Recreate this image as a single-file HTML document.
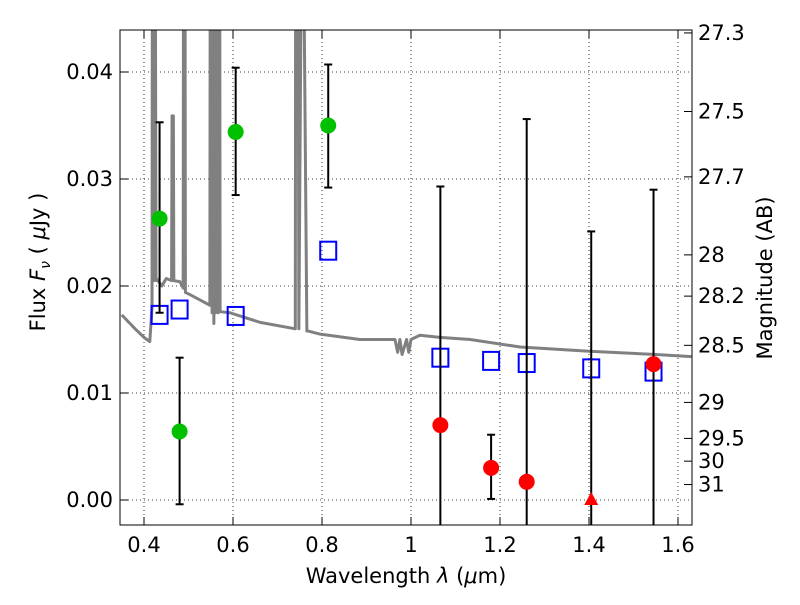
<!DOCTYPE html>
<html><head><meta charset="utf-8"><style>
body{margin:0;background:#fff;}
svg text{font-family:"DejaVu Sans","Liberation Sans",sans-serif;}
</style></head><body>
<svg id="chart" width="800" height="600" xmlns="http://www.w3.org/2000/svg">
<defs><clipPath id="pc"><rect x="120" y="30" width="572" height="495"/></clipPath></defs>
<rect x="0" y="0" width="800" height="600" fill="#fff"/>
<g id="grid"></g>
<g id="marks" clip-path="url(#pc)"></g>
<rect x="120" y="30" width="572" height="495" fill="none" stroke="#000" stroke-width="1"/>
<g id="axes"></g>
<text x="406" y="583" font-size="21" text-anchor="middle">Wavelength  <tspan font-style="italic">λ</tspan> (<tspan font-style="italic">μ</tspan>m)</text>
<text transform="translate(45,262) rotate(-90)" font-size="21" text-anchor="middle">Flux  <tspan font-style="italic">F</tspan><tspan font-style="italic" font-size="14" dy="5">ν</tspan><tspan dy="-5">  ( </tspan><tspan font-style="italic">μ</tspan>Jy )</text>
<text transform="translate(772,278) rotate(-90)" font-size="21" text-anchor="middle">Magnitude (AB)</text>
</svg>
<script>
const xTicks=[0.4,0.6,0.8,1.0,1.2,1.4,1.6];
const xTickLabels=["0.4","0.6","0.8","1","1.2","1.4","1.6"];
const yTicks=[0,0.01,0.02,0.03,0.04];
const yTickLabels=["0.00","0.01","0.02","0.03","0.04"];
const magTicks=[27.3,27.5,27.7,28,28.2,28.5,29,29.5,30,31];
const specWave=[0.35,0.38,0.40,0.413,0.418,0.419,0.421,0.422,0.424,0.425,0.427,0.428,0.44,0.45,0.462,0.463,0.466,0.467,0.481,0.488,0.489,0.492,0.493,0.503,0.53,0.548,0.549,0.552,0.553,0.556,0.557,0.56,0.561,0.566,0.567,0.57,0.571,0.593,0.661,0.74,0.741,0.746,0.748,0.755,0.757,0.766,0.768,0.796,0.885,0.964,0.97,0.975,0.98,0.99,0.995,1.0,1.02,1.065,1.133,1.245,1.40,1.55,1.63];
const specFlux=[0.0173,0.0160,0.0152,0.0148,0.0180,0.06,0.06,0.0205,0.06,0.06,0.0205,0.0207,0.0200,0.0207,0.0205,0.0359,0.0359,0.0205,0.0204,0.0198,0.06,0.06,0.0194,0.0192,0.0186,0.0182,0.06,0.06,0.0175,0.06,0.0165,0.06,0.0175,0.06,0.0175,0.06,0.0176,0.0175,0.0166,0.016,0.06,0.06,0.016,0.06,0.06,0.0158,0.0158,0.0155,0.0150,0.0150,0.0138,0.0150,0.0136,0.0150,0.0138,0.0150,0.0154,0.0152,0.0150,0.0143,0.0139,0.0136,0.0134];
const greenX=[0.435,0.48,0.606,0.814];
const greenY=[0.0263,0.0064,0.0344,0.0350];
const greenLo=[0.0175,-0.0004,0.0285,0.0292];
const greenHi=[0.0353,0.0133,0.0404,0.0407];
const redX=[1.066,1.18,1.26,1.405,1.545];
const redY=[0.0070,0.0030,0.0017,0.0000,0.0127];
const redLo=[-0.003,0.0001,-0.003,-0.003,-0.003];
const redHi=[0.0293,0.0061,0.0356,0.0251,0.0290];
const redUpperLimit=[false,false,false,true,false];
const modelX=[0.435,0.48,0.606,0.814,1.066,1.18,1.26,1.405,1.545];
const modelY=[0.0173,0.0178,0.0172,0.0233,0.0133,0.0130,0.0128,0.0123,0.0120];

const NS="http://www.w3.org/2000/svg";
const X=v=>144+(v-0.4)*445;
const Y=v=>500-v*10700;
function mk(p,t,a){const e=document.createElementNS(NS,t);for(const k in a)e.setAttribute(k,a[k]);p.appendChild(e);return e;}
const grid=document.getElementById('grid'),marks=document.getElementById('marks'),axes=document.getElementById('axes');
xTicks.forEach((v,i)=>{
 const g=mk(grid,'line',{x1:X(v),x2:X(v),y1:30,y2:525,stroke:'#000','stroke-dasharray':'1,3','stroke-width':0.8});
 
 
 mk(axes,'line',{x1:X(v),x2:X(v),y1:525,y2:517,stroke:'#000'});
 mk(axes,'line',{x1:X(v),x2:X(v),y1:30,y2:38,stroke:'#000'});
 const t=mk(axes,'text',{x:X(v),y:552,'font-size':21,'text-anchor':'middle'});t.textContent=xTickLabels[i];
 
 
});
yTicks.forEach((v,i)=>{
 const g=mk(grid,'line',{x1:120,x2:692,y1:Y(v),y2:Y(v),stroke:'#000','stroke-dasharray':'1,3','stroke-width':0.8});
 
 
 mk(axes,'line',{x1:120,x2:128,y1:Y(v),y2:Y(v),stroke:'#000'});
 const t=mk(axes,'text',{x:113,y:Y(v)+7,'font-size':21,'text-anchor':'end'});t.textContent=yTickLabels[i];
 
 
});
magTicks.forEach(m=>{
 const y=Y(Math.pow(10,(23.9-m)/2.5));
 mk(axes,'line',{x1:692,x2:684,y1:y,y2:y,stroke:'#000'});
 const t=mk(axes,'text',{x:698,y:y+7,'font-size':21});t.textContent=String(m);
 
 
});
const sp=mk(marks,'polyline',{points:specWave.map((w,i)=>X(w)+','+Y(specFlux[i])).join(' '),fill:'none',stroke:'#808080','stroke-width':3,'stroke-linejoin':'round'});


function err(x,lo,hi){
 mk(marks,'line',{x1:X(x),x2:X(x),y1:Y(lo),y2:Y(hi),stroke:'#000','stroke-width':2});
 mk(marks,'line',{x1:X(x)-4,x2:X(x)+4,y1:Y(hi),y2:Y(hi),stroke:'#000','stroke-width':2});
 mk(marks,'line',{x1:X(x)-4,x2:X(x)+4,y1:Y(lo),y2:Y(lo),stroke:'#000','stroke-width':2});
}
modelX.forEach((x,i)=>{
 const r=mk(marks,'rect',{x:X(x)-8,y:Y(modelY[i])-9,width:16,height:18,fill:'none',stroke:'#0000ff','stroke-width':2});
 
 
});
greenX.forEach((x,i)=>{
 err(x,greenLo[i],greenHi[i]);
 const c=mk(marks,'circle',{cx:X(x),cy:Y(greenY[i]),r:8,fill:'#00c000'});
 
 
});
redX.forEach((x,i)=>{
 err(x,redLo[i],redHi[i]);
 let c;
 if(redUpperLimit[i]){const cx=X(x),cy=Y(redY[i]);c=mk(marks,'polygon',{points:`${cx},${cy-8} ${cx-7},${cy+5} ${cx+7},${cy+5}`,fill:'#ff0000'});}
 else c=mk(marks,'circle',{cx:X(x),cy:Y(redY[i]),r:8,fill:'#ff0000'});
 
 
});
</script>
</body></html>
